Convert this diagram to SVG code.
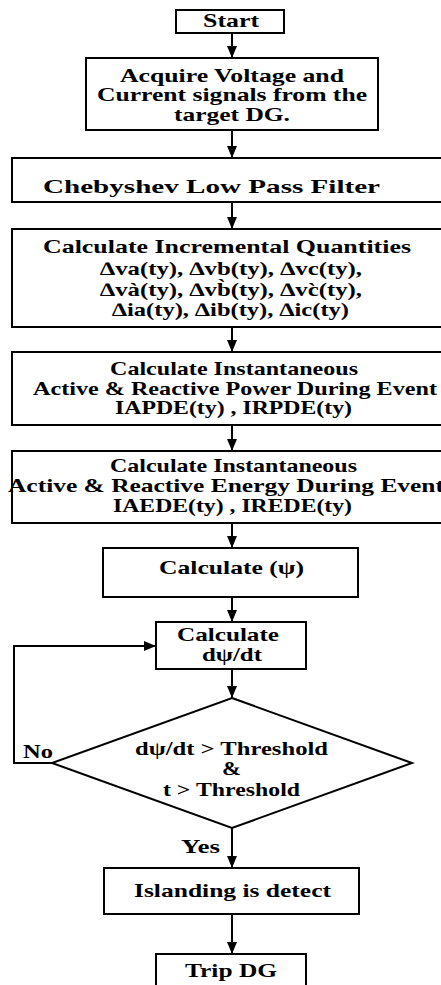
<svg xmlns="http://www.w3.org/2000/svg" width="441" height="985" viewBox="0 0 441 985">
<style>
.box{fill:#fff;stroke:#000;stroke-width:2}
.ln{fill:none;stroke:#000;stroke-width:2}
text{font-family:"Liberation Serif","Times New Roman","DejaVu Serif",serif;font-weight:bold;font-size:19px;fill:#000}
</style>
<defs>
<marker id="ah" markerUnits="userSpaceOnUse" viewBox="0 0 12 10" markerWidth="12" markerHeight="10" refX="12" refY="5" orient="auto">
<path d="M0,0 L12,5 L0,10 z" fill="#000"/>
</marker>
</defs>
<rect width="441" height="985" fill="#fff"/>
<g id="connectors">
<line class="ln" x1="232" y1="33" x2="232" y2="58" marker-end="url(#ah)"/>
<line class="ln" x1="232" y1="130" x2="232" y2="158" marker-end="url(#ah)"/>
<line class="ln" x1="232" y1="202" x2="232" y2="229" marker-end="url(#ah)"/>
<line class="ln" x1="232" y1="327" x2="232" y2="352" marker-end="url(#ah)"/>
<line class="ln" x1="232" y1="425" x2="232" y2="451" marker-end="url(#ah)"/>
<line class="ln" x1="232" y1="523" x2="232" y2="548" marker-end="url(#ah)"/>
<line class="ln" x1="232" y1="597" x2="232" y2="622" marker-end="url(#ah)"/>
<line class="ln" x1="232" y1="669" x2="232" y2="698" marker-end="url(#ah)"/>
<polyline class="ln" points="52,763 14,763 14,646 156,646" marker-end="url(#ah)"/>
<line class="ln" x1="232" y1="828" x2="232" y2="868" marker-end="url(#ah)"/>
<line class="ln" x1="232" y1="914" x2="232" y2="954" marker-end="url(#ah)"/>
<text x="23" y="758" textLength="30" lengthAdjust="spacingAndGlyphs">No</text>
<text x="181" y="853" textLength="39" lengthAdjust="spacingAndGlyphs">Yes</text>
</g>
<g id="start">
<rect class="box" x="176" y="10" width="108" height="23"/>
<text x="203" y="27" textLength="56" lengthAdjust="spacingAndGlyphs">Start</text>
</g>
<g id="acquire">
<rect class="box" x="86" y="58" width="292" height="72"/>
<text x="120" y="82" textLength="224" lengthAdjust="spacingAndGlyphs">Acquire Voltage and</text>
<text x="97" y="101" textLength="270" lengthAdjust="spacingAndGlyphs">Current signals from the</text>
<text x="174" y="121" textLength="116" lengthAdjust="spacingAndGlyphs">target DG.</text>
</g>
<g id="filter">
<rect class="box" x="12" y="158" width="440" height="44"/>
<text x="43" y="193" textLength="337" lengthAdjust="spacingAndGlyphs">Chebyshev Low Pass Filter</text>
</g>
<g id="incremental">
<rect class="box" x="12" y="229" width="440" height="98"/>
<text x="43" y="253" textLength="368" lengthAdjust="spacingAndGlyphs">Calculate Incremental Quantities</text>
<text x="100" y="275" textLength="262" lengthAdjust="spacingAndGlyphs">∆va(ty), ∆vb(ty), ∆vc(ty),</text>
<text x="100" y="296" textLength="262" lengthAdjust="spacingAndGlyphs">∆và(ty), ∆vb̀(ty), ∆vc̀(ty),</text>
<text x="112" y="316" textLength="237" lengthAdjust="spacingAndGlyphs">∆ia(ty), ∆ib(ty), ∆ic(ty)</text>
</g>
<g id="power">
<rect class="box" x="12" y="352" width="440" height="73"/>
<text x="110" y="375" textLength="248" lengthAdjust="spacingAndGlyphs">Calculate Instantaneous</text>
<text x="33" y="395" textLength="404" lengthAdjust="spacingAndGlyphs">Active &amp; Reactive Power During Event</text>
<text x="115" y="414" textLength="237" lengthAdjust="spacingAndGlyphs">IAPDE(ty) , IRPDE(ty)</text>
</g>
<g id="energy">
<rect class="box" x="12" y="451" width="440" height="72"/>
<text x="110" y="472" textLength="247" lengthAdjust="spacingAndGlyphs">Calculate Instantaneous</text>
<text x="8" y="492" textLength="436" lengthAdjust="spacingAndGlyphs">Active &amp; Reactive Energy During Event</text>
<text x="113" y="512" textLength="239" lengthAdjust="spacingAndGlyphs">IAEDE(ty) , IREDE(ty)</text>
</g>
<g id="psi">
<rect class="box" x="103" y="548" width="255" height="49"/>
<text x="159" y="574" textLength="145" lengthAdjust="spacingAndGlyphs">Calculate (ψ)</text>
</g>
<g id="dpsi">
<rect class="box" x="156" y="622" width="150" height="47"/>
<text x="177" y="641" textLength="102" lengthAdjust="spacingAndGlyphs">Calculate</text>
<text x="202" y="661" textLength="60" lengthAdjust="spacingAndGlyphs">dψ/dt</text>
</g>
<g id="decision">
<polygon class="box" points="232,698 412,763 232,828 52,763"/>
<text x="135" y="755" textLength="193" lengthAdjust="spacingAndGlyphs">dψ/dt &gt; Threshold</text>
<text x="222" y="775" textLength="19" lengthAdjust="spacingAndGlyphs">&amp;</text>
<text x="163" y="796" textLength="137" lengthAdjust="spacingAndGlyphs">t &gt; Threshold</text>
</g>
<g id="islanding">
<rect class="box" x="104" y="868" width="255" height="46"/>
<text x="134" y="897" textLength="197" lengthAdjust="spacingAndGlyphs">Islanding is detect</text>
</g>
<g id="trip">
<rect class="box" x="156" y="954" width="150" height="40"/>
<text x="185" y="977" textLength="92" lengthAdjust="spacingAndGlyphs">Trip DG</text>
</g>
</svg>
